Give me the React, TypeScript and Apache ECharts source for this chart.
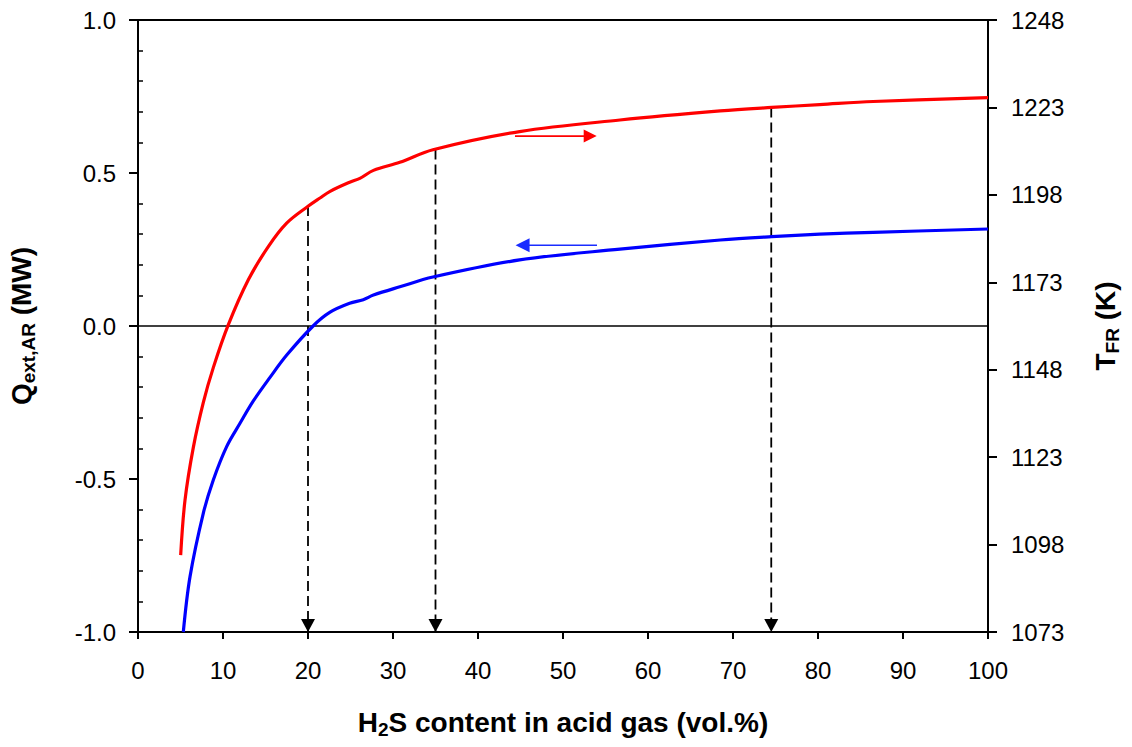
import React, { useEffect, useRef } from "react";
import * as echarts from "echarts";

const FONT = "'Liberation Sans', Arial, Helvetica, sans-serif";

// H2S content (vol.%) vs flame temperature T_FR (K) — right axis
const tempCurve: [number, number][] = [
  [5.02, 1095.0], [5.53, 1110.7], [6.51, 1125.8], [7.68, 1138.6], [8.86, 1148.6],
  [10.62, 1160.8], [12.98, 1173.7], [15.33, 1183.2], [17.49, 1189.9], [20.04, 1194.8],
  [21.41, 1197.1], [22.6, 1199.0], [24.9, 1201.6], [26.1, 1202.7], [27.7, 1205.0],
  [30.8, 1207.3], [34.7, 1210.9], [44.9, 1216.1], [56.7, 1219.4], [68.5, 1222.0],
  [74.55, 1223.0], [80.2, 1223.8], [86.5, 1224.7], [100, 1225.8],
];

// H2S content (vol.%) vs Q_ext,AR (MW) — left axis
const heatCurve: [number, number][] = [
  [5.33, -1.0], [6.12, -0.819], [7.68, -0.612], [8.86, -0.503], [10.43, -0.394],
  [12.0, -0.318], [13.57, -0.245], [15.53, -0.168], [17.5, -0.095], [20.6, 0.0],
  [22.6, 0.045], [24.9, 0.074], [26.5, 0.086], [27.7, 0.101], [30.8, 0.128],
  [34.7, 0.16], [44.9, 0.216], [56.7, 0.251], [68.5, 0.281], [74.55, 0.292],
  [80.2, 0.3], [86.5, 0.306], [100, 0.317],
];

// vertical dashed guides: x position and T at the red curve
const guideX = [20, 35, 74.5];
const guideTop = [1194.8, 1211.0, 1223.0];

// direction arrows
const redArrowX = [44.35, 52.6];
const redArrowHeadX = 53.2;
const redArrowY = 1214.8;
const blueArrowX = [45.6, 54.0];
const blueArrowHeadX = 45.24;
const blueArrowY = 0.2637;

const leftMin = -1;
const leftMax = 1;
const rightMin = 1073;
const rightMax = 1248;
const rightTicks = [1073, 1098, 1123, 1148, 1173, 1198, 1223, 1248];

export default function App() {
  const ref = useRef<HTMLDivElement>(null);

  useEffect(() => {
    if (!ref.current) return;
    const chart = echarts.init(ref.current, null, { renderer: "svg" });

    const bold = { fontFamily: FONT, fontWeight: "bold" as const, color: "#000" };
    const richName = {
      b: { ...bold, fontSize: 28, lineHeight: 34 },
      s: { ...bold, fontSize: 19, lineHeight: 19, verticalAlign: "bottom" as const },
    };

    const guideSeries = guideX.map((x, i) => ({
      type: "line" as const,
      yAxisIndex: 1,
      data: [[x, guideTop[i]], [x, rightMin]],
      symbol: "none",
      lineStyle: { color: "#000", width: 1.8, type: [10, 5] as any, opacity: 1 },
      z: 3,
      silent: true,
    }));

    chart.setOption({
      animation: false,
      backgroundColor: "#fff",
      grid: {
        left: 138,
        right: 144,
        top: 20,
        bottom: 115,
        show: true,
        borderColor: "#000",
        borderWidth: 2,
        containLabel: false,
        outerBoundsMode: "none",
      },
      xAxis: {
        type: "value",
        min: 0,
        max: 100,
        interval: 10,
        splitLine: { show: false },
        axisLine: { show: true, onZero: false, lineStyle: { color: "#000", width: 2 } },
        axisTick: { show: true, length: 7, lineStyle: { color: "#000", width: 2 } },
        axisLabel: { fontSize: 24, fontFamily: FONT, color: "#000", margin: 26, lineHeight: 24 },
        name: "{b|H}{s|2}{b|S content in acid gas (vol.%)}",
        nameLocation: "middle",
        nameGap: 73,
        nameTextStyle: { rich: richName },
      },
      yAxis: [
        {
          type: "value",
          position: "left",
          min: leftMin,
          max: leftMax,
          interval: 0.5,
          splitLine: { show: false },
          axisLine: { show: true, onZero: false, lineStyle: { color: "#000", width: 2 } },
          axisTick: { show: true, length: 9, lineStyle: { color: "#000", width: 2 } },
          minorTick: { show: true, splitNumber: 5, length: -5, lineStyle: { color: "#000", width: 1.5 } },
          axisLabel: {
            fontSize: 24,
            fontFamily: FONT,
            color: "#000",
            margin: 22,
            formatter: (v: number) => v.toFixed(1),
          },
          name: "{b|Q}{s|ext,AR}{b| (MW)}",
          nameLocation: "middle",
          nameRotate: 90,
          nameGap: 100,
          nameTextStyle: { rich: richName },
        },
        {
          type: "value",
          position: "right",
          min: rightMin,
          max: rightMax,
          splitLine: { show: false },
          axisLine: { show: true, onZero: false, lineStyle: { color: "#000", width: 2 } },
          axisTick: { show: true, length: 9, customValues: rightTicks, lineStyle: { color: "#000", width: 2 } },
          axisLabel: {
            fontSize: 24,
            fontFamily: FONT,
            color: "#000",
            margin: 23,
            customValues: rightTicks,
            formatter: (v: number) => String(Math.round(v)),
          },
          name: "{b|T}{s|FR}{b| (K)}",
          nameLocation: "middle",
          nameRotate: 90,
          nameGap: 100,
          nameTextStyle: { rich: richName },
        },
      ],
      series: [
        {
          type: "line",
          yAxisIndex: 0,
          data: [[0, 0], [100, 0]],
          symbol: "none",
          lineStyle: { color: "#000", width: 1.3, opacity: 1 },
          z: 1,
          silent: true,
        },
        ...guideSeries,
        {
          type: "scatter",
          yAxisIndex: 1,
          data: guideX.map((x) => [x, rightMin]),
          symbol: "triangle",
          symbolRotate: 180,
          symbolSize: [14, 13],
          symbolOffset: [0, -6.5],
          itemStyle: { color: "#000", opacity: 1 },
          clip: false,
          z: 4,
          silent: true,
        },
        {
          type: "line",
          yAxisIndex: 1,
          data: tempCurve,
          symbol: "none",
          smooth: 0.35,
          lineStyle: { color: "#ff0000", width: 3.2 },
          z: 5,
        },
        {
          type: "line",
          yAxisIndex: 0,
          data: heatCurve,
          symbol: "none",
          smooth: 0.35,
          lineStyle: { color: "#0000ff", width: 3.2 },
          z: 5,
        },
        {
          type: "line",
          yAxisIndex: 1,
          data: redArrowX.map((x) => [x, redArrowY]),
          symbol: "none",
          lineStyle: { color: "#ff0000", width: 1.6 },
          z: 6,
        },
        {
          type: "scatter",
          yAxisIndex: 1,
          data: [[redArrowHeadX, redArrowY]],
          symbol: "triangle",
          symbolRotate: -90,
          symbolSize: [13, 13],
          itemStyle: { color: "#ff0000", opacity: 1 },
          z: 6,
        },
        {
          type: "line",
          yAxisIndex: 0,
          data: blueArrowX.map((x) => [x, blueArrowY]),
          symbol: "none",
          lineStyle: { color: "#1a2cff", width: 1.6 },
          z: 6,
        },
        {
          type: "scatter",
          yAxisIndex: 0,
          data: [[blueArrowHeadX, blueArrowY]],
          symbol: "triangle",
          symbolRotate: 90,
          symbolSize: [14, 14],
          itemStyle: { color: "#1a2cff", opacity: 1 },
          z: 6,
        },
      ],
    });

    return () => chart.dispose();
  }, []);

  return (
    <div
      ref={ref}
      style={{ position: "fixed", left: 0, top: 0, width: 1132, height: 747, background: "#fff" }}
    />
  );
}
